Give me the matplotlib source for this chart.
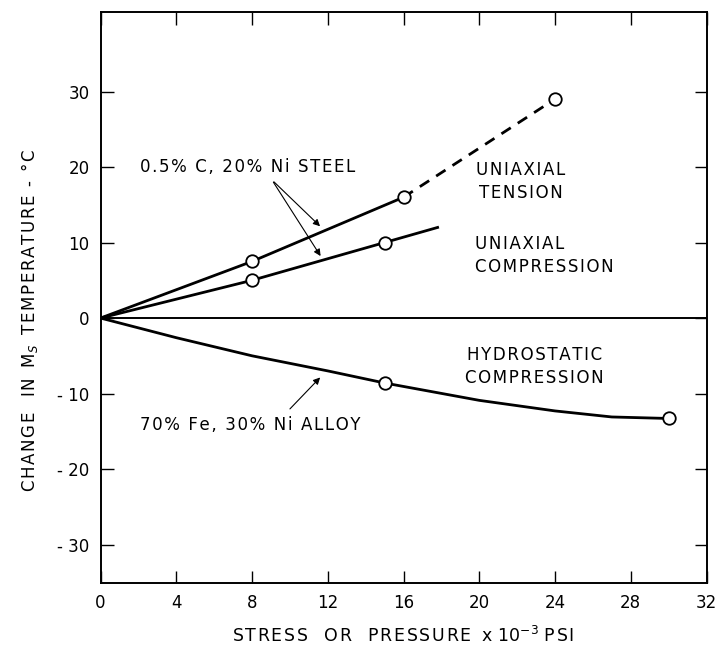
import numpy as np
import matplotlib.pyplot as plt

# uniaxial tension (0.5% C, 20% Ni steel)
tens_x = [0, 8, 16]
tens_y = [0, 7.5, 16]
tens_dash_x = [16, 24]
tens_dash_y = [16, 29]
tens_pts_x = [8, 16, 24]
tens_pts_y = [7.5, 16, 29]

# uniaxial compression
comp_x = [0, 8, 15, 17.8]
comp_y = [0, 5, 10, 12]
comp_pts_x = [8, 15]
comp_pts_y = [5, 10]

# hydrostatic compression (70% Fe, 30% Ni alloy)
hyd_x = [0, 4, 8, 12, 15, 20, 24, 27, 30]
hyd_y = [0, -2.6, -5.0, -7.0, -8.6, -10.9, -12.3, -13.1, -13.3]
hyd_pts_x = [15, 30]
hyd_pts_y = [-8.6, -13.3]

xticks = [0, 4, 8, 12, 16, 20, 24, 28, 32]
yticks = [-30, -20, -10, 0, 10, 20, 30]


def spaced(s):
    # lettering-guide look: a hair space between letters
    return '\u200a'.join(s)


plt.rcParams['font.family'] = ['DejaVu Sans']

fig = plt.figure(figsize=(7.18, 6.45), dpi=100)
ax = fig.add_axes([0.140, 0.096, 0.844, 0.885])

ax.axhline(0, color='black', lw=1.4)
ax.plot(tens_x, tens_y, color='black', lw=2)
ax.plot(tens_dash_x, tens_dash_y, color='black', lw=2, dashes=(4, 3))
ax.plot(comp_x, comp_y, color='black', lw=2)
ax.plot(hyd_x, hyd_y, color='black', lw=2)

mk = dict(ls='none', marker='o', ms=9, mfc='white', mec='black', mew=1.3, zorder=5)
ax.plot(tens_pts_x, tens_pts_y, **mk)
ax.plot(comp_pts_x, comp_pts_y, **mk)
ax.plot(hyd_pts_x, hyd_pts_y, **mk)

fs = 12
ax.text(2.1, 20, spaced('0.5% C, 20% Ni STEEL'), fontsize=fs, va='center', ha='left')
arr = dict(arrowstyle='-|>', color='black', lw=0.8, mutation_scale=10)
ax.annotate('', xy=(11.7, 11.9), xytext=(9.05, 18.3), arrowprops=arr)
ax.annotate('', xy=(11.7, 7.9), xytext=(9.05, 18.3), arrowprops=arr)

ax.text(22.2, 18.1, spaced('UNIAXIAL') + '\n' + spaced('TENSION'), fontsize=fs,
        ha='center', va='center', linespacing=1.4)
ax.text(19.8, 8.3, spaced('UNIAXIAL') + '\n' + spaced('COMPRESSION'), fontsize=fs,
        ha='left', va='center', linespacing=1.4)
ax.text(22.9, -6.4, spaced('HYDROSTATIC') + '\n' + spaced('COMPRESSION'), fontsize=fs,
        ha='center', va='center', linespacing=1.4)

ax.text(2.1, -14.2, spaced('70% Fe, 30% Ni ALLOY'), fontsize=fs, va='center', ha='left')
ax.annotate('', xy=(11.7, -7.6), xytext=(9.9, -12.3), arrowprops=arr)

ax.set_xlim(0, 32)
ax.set_ylim(-35.1, 40.5)
ax.set_xticks(xticks)
ax.set_yticks(yticks)
ax.set_yticklabels([str(t).replace('-', '- ') for t in yticks])
ax.tick_params(direction='in', length=9, width=1, top=True, right=True,
               labelsize=12, pad=8)
for s in ax.spines.values():
    s.set_linewidth(1.4)

ax.set_xlabel(spaced('STRESS  OR  PRESSURE') + '  x 10$^{-3}$ ' + spaced('PSI'),
              fontsize=12.5, labelpad=10)
ax.set_ylabel(spaced('CHANGE  IN') + '  M$_S$  ' + spaced('TEMPERATURE - °C'),
              fontsize=12, labelpad=12)
ax.yaxis.set_label_coords(-0.10, 0.46)

fig.savefig('out.png', dpi=100)
